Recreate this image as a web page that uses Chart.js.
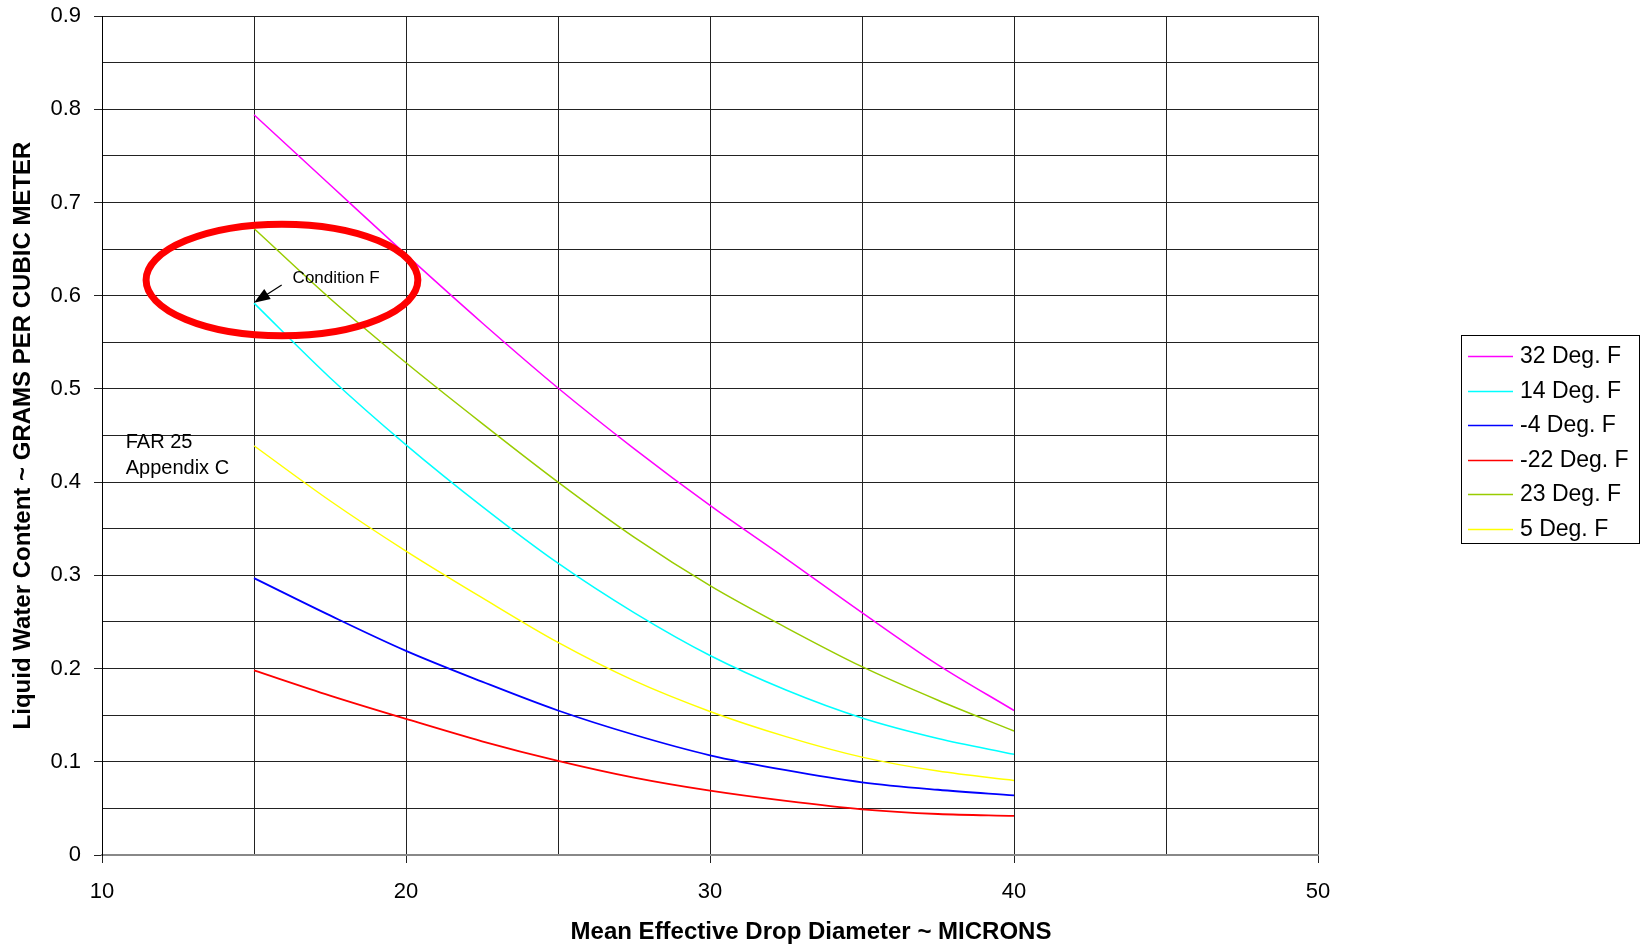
<!DOCTYPE html>
<html>
<head>
<meta charset="utf-8">
<script src="https://cdn.jsdelivr.net/npm/chart.js@4"></script>
<style>
  html, body { margin: 0; padding: 0; background: #fff; }
  #wrap { width: 1646px; height: 947px; }
</style>
</head>
<body>
<div id="wrap"><canvas id="c" width="1646" height="947"></canvas></div>
<script>
// Mean effective drop diameter (microns)
const diameters = [15, 17.5, 20, 22.5, 25, 27.5, 30, 32.5, 35, 37.5, 40];

// Liquid water content (g/m3) per ambient temperature
const lwc32  = [0.794, 0.719, 0.644, 0.571, 0.501, 0.436, 0.375, 0.318, 0.260, 0.204, 0.155];
const lwc14  = [0.592, 0.512, 0.440, 0.374, 0.313, 0.260, 0.214, 0.177, 0.147, 0.125, 0.108];
const lwcM4  = [0.297, 0.257, 0.219, 0.186, 0.155, 0.129, 0.107, 0.091, 0.078, 0.070, 0.064];
const lwcM22 = [0.198, 0.171, 0.146, 0.122, 0.101, 0.083, 0.069, 0.058, 0.049, 0.044, 0.042];
const lwc23  = [0.672, 0.597, 0.528, 0.463, 0.400, 0.341, 0.289, 0.244, 0.202, 0.166, 0.133];
const lwc5   = [0.439, 0.380, 0.326, 0.276, 0.228, 0.187, 0.154, 0.127, 0.105, 0.090, 0.080];

const seriesLabels = ['32 Deg. F', '14 Deg. F', '-4 Deg. F', '-22 Deg. F', '23 Deg. F', '5 Deg. F'];
const seriesColors = ['#ff00ff', '#00ffff', '#0000ff', '#ff0000', '#99cc00', '#ffff00'];
const seriesValues = [lwc32, lwc14, lwcM4, lwcM22, lwc23, lwc5];

// axis ranges / ticks
const xMin = 10, xMax = 50, xStep = 5;
const yMin = 0, yMax = 0.9, yStep = 0.05;

// annotations (in data units)
const condF = { tipX: 15, tipY: 0.5925, tailX: 15.91, tailY: 0.6115, textX: 16.27, textY: 0.619, text: 'Condition F' };
const ring = { cx: 15.92, cy: 0.6168, rx: 4.47, ry: 0.0599 };
const farNote = { x: 10.78, y1: 0.443, y2: 0.415, lines: ['FAR 25', 'Appendix C'] };

const FONT = "'Liberation Sans', Arial, sans-serif";

const datasets = seriesValues.map((vals, i) => ({
  label: seriesLabels[i],
  data: diameters.map((d, j) => ({ x: d, y: vals[j] })),
  borderColor: seriesColors[i],
  backgroundColor: seriesColors[i],
  borderWidth: (i === 2 || i === 3) ? 1.8 : 1.5,
  pointRadius: 0,
  cubicInterpolationMode: 'monotone',
  fill: false
}));

const extrasPlugin = {
  id: 'extras',
  afterDatasetsDraw(chart) {
    const ctx = chart.ctx;
    const xs = chart.scales.x, ys = chart.scales.y;
    const px = v => xs.getPixelForValue(v);
    const py = v => ys.getPixelForValue(v);
    ctx.save();

    // red ring
    ctx.beginPath();
    ctx.ellipse(px(ring.cx), py(ring.cy),
      px(ring.cx + ring.rx) - px(ring.cx), py(ring.cy) - py(ring.cy + ring.ry), 0, 0, Math.PI * 2);
    ctx.strokeStyle = '#ff0000';
    ctx.lineWidth = 7;
    ctx.stroke();

    // arrow to condition F
    const tx = px(condF.tipX), ty = py(condF.tipY);
    const sx = px(condF.tailX), sy = py(condF.tailY);
    const ang = Math.atan2(ty - sy, tx - sx);
    ctx.beginPath();
    ctx.moveTo(sx, sy);
    ctx.lineTo(tx - 12 * Math.cos(ang), ty - 12 * Math.sin(ang));
    ctx.strokeStyle = '#000';
    ctx.lineWidth = 1.3;
    ctx.stroke();
    ctx.beginPath();
    ctx.moveTo(tx, ty);
    ctx.lineTo(tx - 16 * Math.cos(ang) + 6 * Math.sin(ang), ty - 16 * Math.sin(ang) - 6 * Math.cos(ang));
    ctx.lineTo(tx - 16 * Math.cos(ang) - 6 * Math.sin(ang), ty - 16 * Math.sin(ang) + 6 * Math.cos(ang));
    ctx.closePath();
    ctx.fillStyle = '#000';
    ctx.fill();

    ctx.fillStyle = '#000';
    ctx.textBaseline = 'middle';
    ctx.textAlign = 'left';
    ctx.font = '17px ' + FONT;
    ctx.fillText(condF.text, px(condF.textX), py(condF.textY));

    ctx.font = '20px ' + FONT;
    ctx.fillText(farNote.lines[0], px(farNote.x), py(farNote.y1));
    ctx.fillText(farNote.lines[1], px(farNote.x), py(farNote.y2));

    // axis titles
    const a = chart.chartArea;
    ctx.font = 'bold 24px ' + FONT;
    ctx.textAlign = 'center';
    ctx.fillText('Mean Effective Drop Diameter ~ MICRONS', 811, 932);
    ctx.save();
    ctx.translate(23, (a.top + a.bottom) / 2);
    ctx.rotate(-Math.PI / 2);
    ctx.fillText('Liquid Water Content ~ GRAMS PER CUBIC METER', 0, 0);
    ctx.restore();

    // legend box
    const lx = 1461, ly = 335, lw = 178, lh = 208;
    ctx.fillStyle = '#fff';
    ctx.fillRect(lx, ly, lw, lh);
    ctx.strokeStyle = '#000';
    ctx.lineWidth = 1;
    ctx.strokeRect(lx + 0.5, ly + 0.5, lw, lh);
    ctx.font = '23px ' + FONT;
    ctx.textAlign = 'left';
    chart.data.datasets.forEach((ds, i) => {
      const yy = 356 + i * 34.5;
      ctx.beginPath();
      ctx.moveTo(1468, Math.round(yy) + 0.5);
      ctx.lineTo(1513, Math.round(yy) + 0.5);
      ctx.strokeStyle = ds.borderColor;
      ctx.lineWidth = 1.5;
      ctx.stroke();
      ctx.fillStyle = '#000';
      ctx.fillText(ds.label, 1520, yy + 1);
    });
    ctx.restore();
  }
};

new Chart(document.getElementById('c'), {
  type: 'line',
  data: { datasets },
  plugins: [extrasPlugin],
  options: {
    responsive: false,
    animation: false,
    layout: { padding: { left: 0, right: 328, top: 16, bottom: 0 } },
    plugins: { legend: { display: false }, tooltip: { enabled: false } },
    scales: {
      x: {
        type: 'linear',
        min: xMin, max: xMax,
        afterFit: s => { s.height = 92; s.paddingLeft = 0; s.paddingRight = 0; },
        border: { color: '#888', width: 2 },
        grid: {
          color: '#222',
          lineWidth: 1,
          tickLength: 8,
          tickColor: c => (c.tick && c.tick.value % 10 === 0) ? '#222' : 'rgba(0,0,0,0)'
        },
        ticks: {
          stepSize: xStep,
          autoSkip: false,
          maxRotation: 0,
          padding: 16,
          color: '#000',
          font: { family: FONT, size: 22 },
          callback: v => (v % 10 === 0 ? String(v) : '')
        }
      },
      y: {
        type: 'linear',
        min: yMin, max: yMax,
        afterFit: s => { s.width = 102; s.paddingTop = 0; s.paddingBottom = 0; },
        border: { color: '#000', width: 1 },
        grid: {
          color: '#222',
          lineWidth: 1,
          tickLength: 8,
          tickColor: c => (c.tick && Math.round(c.tick.value * 100) % 10 === 0) ? '#222' : 'rgba(0,0,0,0)'
        },
        ticks: {
          stepSize: yStep,
          autoSkip: false,
          padding: 13,
          color: '#000',
          font: { family: FONT, size: 22 },
          callback: v => {
            const r = Math.round(v * 100);
            return r % 10 === 0 ? String(r / 100) : '';
          }
        }
      }
    }
  }
});
</script>
</body>
</html>
